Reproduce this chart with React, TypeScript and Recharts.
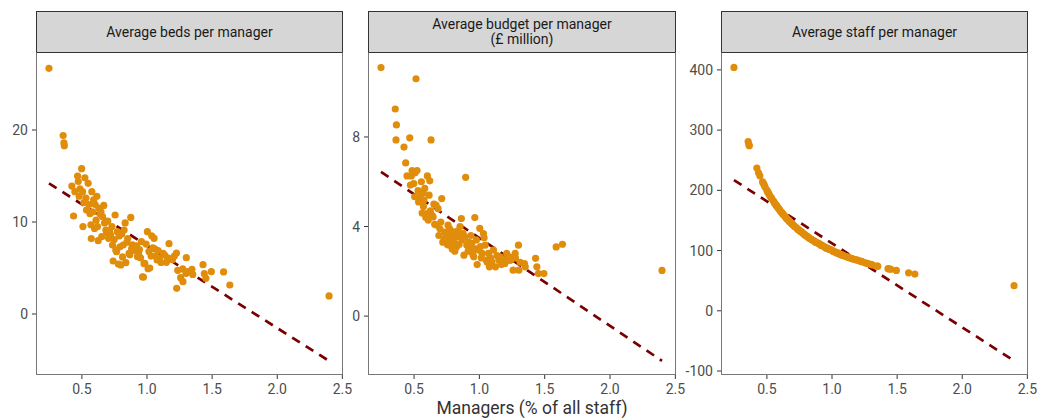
import React from "react";
import { ComposedChart, Scatter, XAxis, YAxis, ReferenceLine } from "recharts";

// Managers as % of all staff, one value per trust
const managersPct = [
  0.247, 0.356, 0.362, 0.365, 0.423, 0.436, 0.446, 0.467, 0.472, 0.479,
  0.485, 0.498, 0.505, 0.508, 0.515, 0.523, 0.531, 0.535, 0.548, 0.556,
  0.562, 0.569, 0.572, 0.576, 0.582, 0.59, 0.597, 0.602, 0.609, 0.615,
  0.62, 0.625, 0.63, 0.638, 0.646, 0.652, 0.658, 0.668, 0.674, 0.684,
  0.69, 0.698, 0.705, 0.712, 0.72, 0.73, 0.735, 0.74, 0.748, 0.755,
  0.76, 0.766, 0.772, 0.78, 0.786, 0.792, 0.799, 0.806, 0.812, 0.817,
  0.824, 0.832, 0.837, 0.845, 0.852, 0.862, 0.868, 0.875, 0.882, 0.888,
  0.895, 0.904, 0.914, 0.919, 0.927, 0.935, 0.942, 0.95, 0.957, 0.965,
  0.972, 0.977, 0.983, 0.993, 1.003, 1.008, 1.015, 1.021, 1.031, 1.036,
  1.044, 1.054, 1.06, 1.07, 1.077, 1.085, 1.095, 1.108, 1.123, 1.135,
  1.149, 1.159, 1.169, 1.18, 1.195, 1.21, 1.226, 1.228, 1.236, 1.258,
  1.274, 1.276, 1.299, 1.302, 1.312, 1.345, 1.351, 1.43, 1.44, 1.452,
  1.494, 1.588, 1.636, 2.398,
];

const bedsPerManager = [
  26.7, 19.4, 18.6, 18.3, 13.9, 10.65, 13.3, 15.0, 14.4, 12.8,
  13.6, 15.8, 13.3, 9.5, 12.1, 14.8, 12.6, 11.3, 14.2, 11.9,
  10.9, 9.7, 8.2, 13.3, 11.1, 12.4, 9.3, 11.9, 10.2, 12.8,
  9.5, 7.97, 11.5, 10.9, 11.1, 8.4, 10.6, 11.8, 9.9, 9.13,
  8.8, 10.1, 8.23, 9.0, 8.6, 9.5, 7.5, 5.76, 8.1, 10.76,
  6.96, 6.78, 8.95, 5.43, 8.48, 7.3, 5.33, 8.7, 6.2, 7.5,
  9.13, 9.9, 5.58, 7.8, 8.2, 6.6, 6.45, 10.5, 7.1, 7.53,
  6.9, 7.2, 7.3, 7.4, 6.23, 6.5, 7.0, 6.1, 7.86, 4.05,
  4.0, 5.47, 5.5, 7.6, 8.95, 4.93, 6.8, 5.0, 6.3, 8.5,
  7.2, 8.23, 7.07, 6.3, 5.87, 6.9, 6.0, 5.6, 6.6, 6.4,
  5.62, 6.1, 7.64, 6.0, 5.9, 6.3, 6.63, 2.79, 4.75, 3.95,
  4.9, 3.51, 4.4, 6.12, 4.6, 4.86, 4.3, 5.36, 4.38, 3.88,
  4.6, 4.57, 3.15, 1.96,
];

const budgetPerManager = [
  11.1, 9.25, 7.87, 8.54, 7.55, 6.84, 6.26, 7.96, 5.85, 6.26,
  6.5, 5.92, 5.33, 6.4, 10.6, 6.5, 5.6, 5.1, 5.33, 6.0,
  4.6, 5.5, 4.9, 5.18, 5.7, 4.4, 4.58, 6.26, 4.29, 5.4,
  6.04, 4.7, 7.87, 4.5, 4.43, 5.0, 4.1, 4.96, 4.06, 4.8,
  3.6, 3.9, 4.2, 5.25, 3.3, 3.39, 3.75, 3.5, 3.69, 3.2,
  4.06, 3.17, 3.9, 3.4, 3.6, 3.0, 3.76, 3.3, 2.9, 3.55,
  3.09, 3.8, 3.54, 3.2, 4.0, 4.36, 3.4, 3.7, 2.72, 3.54,
  6.2, 3.17, 2.9, 3.3, 3.0, 3.6, 3.25, 2.75, 2.65, 4.4,
  3.0, 3.4, 2.3, 2.95, 3.92, 3.1, 2.6, 2.8, 3.69, 3.5,
  3.17, 2.5, 2.4, 2.8, 2.2, 2.6, 2.42, 2.95, 2.2, 2.7,
  2.5, 2.65, 2.3, 2.55, 2.35, 2.8, 2.5, 2.65, 2.5, 2.05,
  2.8, 2.6, 3.17, 2.05, 2.4, 2.35, 2.2, 2.58, 2.2, 1.9,
  1.9, 3.09, 3.21, 2.04,
];

const staffPerManager = [
  404, 281, 276, 274, 237, 229, 224, 214, 212, 209,
  206, 201, 198, 197, 194, 191, 188, 187, 183, 180,
  178, 176, 175, 174, 172, 170, 168, 166, 164, 163,
  161, 160, 159, 157, 155, 153, 152, 150, 148, 146,
  145, 143, 142, 140, 139, 137, 136, 135, 134, 132,
  132, 131, 130, 128, 127, 126, 125, 124, 123, 122,
  121, 120, 119, 118, 117, 116, 115, 114, 113, 113,
  112, 111, 109, 109, 108, 107, 106, 105, 104, 104,
  103, 102, 102, 101, 100, 99, 98, 98, 97, 96,
  96, 95, 94, 93, 93, 92, 91, 90, 89, 88,
  87, 86, 85.5, 85, 84, 83, 82, 81.5, 81, 79.5,
  78.5, 78.4, 77, 76.8, 76, 74, 74, 70, 69.5, 69,
  67, 63, 61, 41.7,
];

// Linear fit end points (x from, x to) and fitted values per panel
const fitX = [0.247, 2.398];
const bedsFit = [14.2, -5.1];
const budgetFit = [6.44, -2.0];
const staffFit = [217, -83];

const xTicks = [0.5, 1.0, 1.5, 2.0, 2.5];
const bedsTicks = [0, 10, 20];
const budgetTicks = [0, 4, 8];
const staffTicks = [-100, 0, 100, 200, 300, 400];

const panelTitles = [
  ["Average beds per manager"],
  ["Average budget per manager", "(£ million)"],
  ["Average staff per manager"],
];
const xTitle = "Managers (% of all staff)";

const FONT = "Roboto, 'Noto Sans', sans-serif";
const POINT = "#E08D0B";
const FIT = "#7A0000";
const X_DOMAIN: [number, number] = [0.1475, 2.505];

const TOP = 53;
const STRIP_TOP = 11;
const PLOT_BOTTOM = 375;

type PanelProps = {
  left: number;
  width: number;
  yWidth: number;
  right: number;
  yDomain: [number, number];
  yTicks: number[];
  values: number[];
  fit: number[];
  title: string[];
};

const Dot = (p: any) => <circle cx={p.cx} cy={p.cy} r={3.6} fill={POINT} />;

function Panel({ left, width, yWidth, right, yDomain, yTicks, values, fit, title }: PanelProps) {
  const data = managersPct.map((x, i) => ({ x, y: values[i] }));
  const plotLeft = left + yWidth;
  const plotRight = left + width - right;
  const tickStyle = { fill: "#4D4D4D", fontSize: 14, fontFamily: FONT };
  return (
    <>
      <div style={{ position: "absolute", left, top: 0 }}>
        <ComposedChart
          width={width}
          height={419}
          margin={{ top: TOP, right, bottom: 14, left: 0 }}
        >
          <XAxis
            type="number"
            dataKey="x"
            domain={X_DOMAIN}
            ticks={xTicks}
            allowDataOverflow
            tickFormatter={(v: number) => v.toFixed(1)}
            axisLine={false}
            tickLine={{ stroke: "#333333" }}
            tickSize={4}
            tickMargin={5}
            tick={tickStyle}
            height={30}
            interval={0}
          />
          <YAxis
            type="number"
            dataKey="y"
            domain={yDomain}
            ticks={yTicks}
            allowDataOverflow
            axisLine={false}
            tickLine={{ stroke: "#333333" }}
            tickSize={4}
            tickMargin={4}
            tick={tickStyle}
            width={yWidth}
            interval={0}
          />
          <Scatter data={data} dataKey="y" shape={Dot} isAnimationActive={false} />
          <ReferenceLine
            segment={[
              { x: fitX[0], y: fit[0] },
              { x: fitX[1], y: fit[1] },
            ]}
            stroke={FIT}
            strokeWidth={2.7}
            strokeDasharray="9 7"
            ifOverflow="visible"
          />
        </ComposedChart>
      </div>
      <div
        style={{
          position: "absolute",
          left: plotLeft,
          top: STRIP_TOP,
          width: plotRight - plotLeft,
          height: TOP - STRIP_TOP,
          boxSizing: "border-box",
          background: "#D6D6D6",
          border: "1px solid #333333",
          display: "flex",
          flexDirection: "column",
          justifyContent: "center",
          alignItems: "center",
          fontFamily: FONT,
          fontSize: 14,
          lineHeight: "15px",
          color: "#1A1A1A",
        }}
      >
        {title.map((t) => (
          <div key={t}>{t}</div>
        ))}
      </div>
      <div
        style={{
          position: "absolute",
          left: plotLeft,
          top: TOP - 1,
          width: plotRight - plotLeft,
          height: PLOT_BOTTOM - TOP + 1,
          boxSizing: "border-box",
          border: "1px solid #777777",
          borderTop: "1px solid #333333",
          pointerEvents: "none",
        }}
      />
    </>
  );
}

export default function App() {
  return (
    <div
      style={{
        position: "absolute",
        left: 0,
        top: 0,
        width: 1037,
        height: 419,
        background: "#FFFFFF",
        overflow: "hidden",
      }}
    >
      <Panel
        left={0}
        width={362}
        yWidth={36}
        right={19}
        yDomain={[-6.63, 28.37]}
        yTicks={bedsTicks}
        values={bedsPerManager}
        fit={bedsFit}
        title={panelTitles[0]}
      />
      <Panel
        left={345}
        width={347}
        yWidth={23}
        right={16}
        yDomain={[-2.63, 11.75]}
        yTicks={budgetTicks}
        values={budgetPerManager}
        fit={budgetFit}
        title={panelTitles[1]}
      />
      <Panel
        left={680}
        width={357}
        yWidth={41}
        right={9}
        yDomain={[-106.6, 428]}
        yTicks={staffTicks}
        values={staffPerManager}
        fit={staffFit}
        title={panelTitles[2]}
      />
      <div
        style={{
          position: "absolute",
          left: 36,
          top: 397,
          width: 992,
          textAlign: "center",
          fontFamily: FONT,
          fontSize: 17.5,
          lineHeight: "22px",
          color: "#333333",
        }}
      >
        {xTitle}
      </div>
    </div>
  );
}
